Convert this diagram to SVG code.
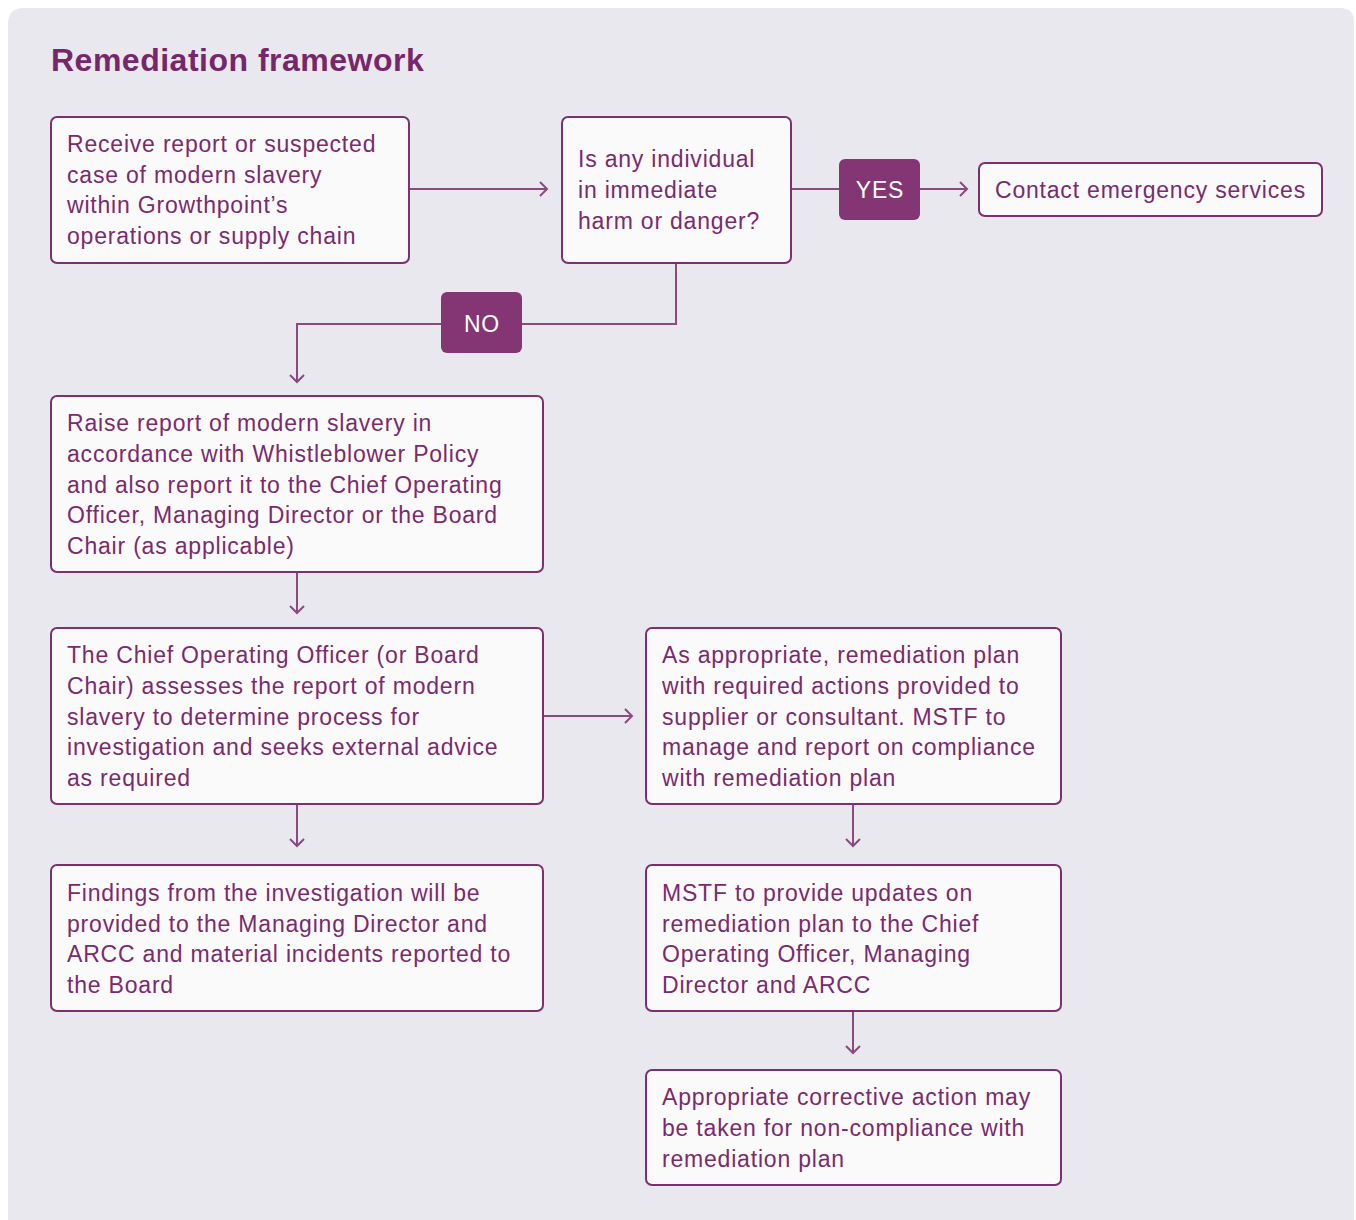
<svg xmlns="http://www.w3.org/2000/svg" width="1356" height="1220" viewBox="0 0 1356 1220">
<defs>
<style>
.bg{fill:#e8e8ee}
.box{fill:#fafafa;stroke:#7d3070;stroke-width:2}
.t{font-family:"Liberation Sans",Arial,sans-serif;font-size:23px;letter-spacing:0.8px;fill:#7a2a6e}
.title{font-family:"Liberation Sans",Arial,sans-serif;font-size:32px;letter-spacing:0.5px;font-weight:bold;fill:#76266b}
.lab{fill:#833673}
.lt{font-family:"Liberation Sans",Arial,sans-serif;font-size:23px;letter-spacing:0.8px;fill:#ffffff;text-anchor:middle}
.c{fill:none;stroke:#8a4a80;stroke-width:2}
</style>
<marker id="ah" markerUnits="userSpaceOnUse" markerWidth="20" markerHeight="20" refX="10" refY="8" orient="auto" viewBox="0 0 20 16">
<path d="M3,1 L10,8 L3,15" fill="none" stroke="#8a4a80" stroke-width="2"/>
</marker>
</defs>
<rect x="0" y="0" width="1356" height="1220" fill="#ffffff"/>
<path class="bg" d="M24,8 H1340 Q1354,8 1354,22 V1220 H8 V24 Q8,8 24,8 Z"/>
<text class="title" x="51" y="71">Remediation framework</text>

<g id="connectors">
<line class="c" x1="409" y1="189" x2="547" y2="189" marker-end="url(#ah)"/>
<line class="c" x1="791" y1="189" x2="839" y2="189"/>
<line class="c" x1="920" y1="189" x2="967" y2="189" marker-end="url(#ah)"/>
<polyline class="c" points="676,263 676,324 522,324"/>
<polyline class="c" points="441,324 297,324 297,382" marker-end="url(#ah)"/>
<line class="c" x1="297" y1="572" x2="297" y2="613" marker-end="url(#ah)"/>
<line class="c" x1="543" y1="716" x2="632" y2="716" marker-end="url(#ah)"/>
<line class="c" x1="297" y1="804" x2="297" y2="846" marker-end="url(#ah)"/>
<line class="c" x1="853" y1="804" x2="853" y2="846" marker-end="url(#ah)"/>
<line class="c" x1="853" y1="1011" x2="853" y2="1053" marker-end="url(#ah)"/>
</g>

<g id="yes">
<rect class="lab" x="839" y="159" width="81" height="61" rx="6"/>
<text class="lt" x="880" y="198">YES</text>
</g>
<g id="no">
<rect class="lab" x="441" y="292" width="81" height="61" rx="6"/>
<text class="lt" x="482" y="332">NO</text>
</g>

<g id="n1">
<rect class="box" x="51" y="117" width="358" height="146" rx="6"/>
<text class="t"><tspan x="67" y="152">Receive report or suspected</tspan><tspan x="67" y="183">case of modern slavery</tspan><tspan x="67" y="213">within Growthpoint’s</tspan><tspan x="67" y="244">operations or supply chain</tspan></text>
</g>
<g id="n2">
<rect class="box" x="562" y="117" width="229" height="146" rx="6"/>
<text class="t"><tspan x="578" y="167">Is any individual</tspan><tspan x="578" y="198">in immediate</tspan><tspan x="578" y="229">harm or danger?</tspan></text>
</g>
<g id="n3">
<rect class="box" x="979" y="163" width="343" height="53" rx="6"/>
<text class="t" x="995" y="198">Contact emergency services</text>
</g>
<g id="n4">
<rect class="box" x="51" y="396" width="492" height="176" rx="6"/>
<text class="t"><tspan x="67" y="431">Raise report of modern slavery in</tspan><tspan x="67" y="462">accordance with Whistleblower Policy</tspan><tspan x="67" y="493">and also report it to the Chief Operating</tspan><tspan x="67" y="523">Officer, Managing Director or the Board</tspan><tspan x="67" y="554">Chair (as applicable)</tspan></text>
</g>
<g id="n5">
<rect class="box" x="51" y="628" width="492" height="176" rx="6"/>
<text class="t"><tspan x="67" y="663">The Chief Operating Officer (or Board</tspan><tspan x="67" y="694">Chair) assesses the report of modern</tspan><tspan x="67" y="725">slavery to determine process for</tspan><tspan x="67" y="755">investigation and seeks external advice</tspan><tspan x="67" y="786">as required</tspan></text>
</g>
<g id="n6">
<rect class="box" x="646" y="628" width="415" height="176" rx="6"/>
<text class="t"><tspan x="662" y="663">As appropriate, remediation plan</tspan><tspan x="662" y="694">with required actions provided to</tspan><tspan x="662" y="725">supplier or consultant. MSTF to</tspan><tspan x="662" y="755">manage and report on compliance</tspan><tspan x="662" y="786">with remediation plan</tspan></text>
</g>
<g id="n7">
<rect class="box" x="51" y="865" width="492" height="146" rx="6"/>
<text class="t"><tspan x="67" y="901">Findings from the investigation will be</tspan><tspan x="67" y="932">provided to the Managing Director and</tspan><tspan x="67" y="962">ARCC and material incidents reported to</tspan><tspan x="67" y="993">the Board</tspan></text>
</g>
<g id="n8">
<rect class="box" x="646" y="865" width="415" height="146" rx="6"/>
<text class="t"><tspan x="662" y="901">MSTF to provide updates on</tspan><tspan x="662" y="932">remediation plan to the Chief</tspan><tspan x="662" y="962">Operating Officer, Managing</tspan><tspan x="662" y="993">Director and ARCC</tspan></text>
</g>
<g id="n9">
<rect class="box" x="646" y="1070" width="415" height="115" rx="6"/>
<text class="t"><tspan x="662" y="1105">Appropriate corrective action may</tspan><tspan x="662" y="1136">be taken for non-compliance with</tspan><tspan x="662" y="1167">remediation plan</tspan></text>
</g>
</svg>
